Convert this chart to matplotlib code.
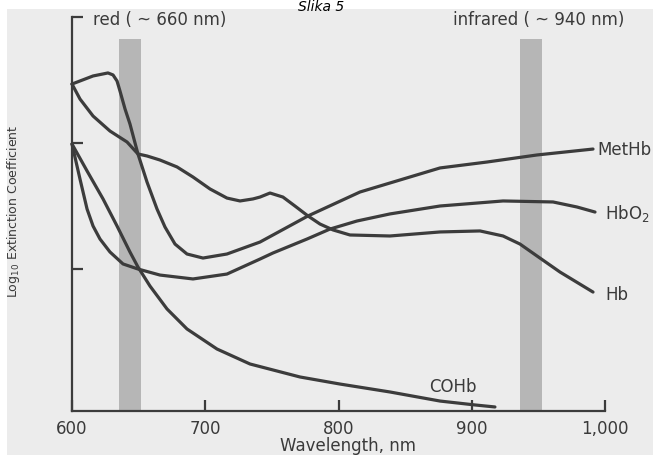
import numpy as np
import matplotlib.pyplot as plt
from matplotlib.patches import Rectangle

plt.rcParams['font.family'] = ['DejaVu Sans']
plt.rcParams['mathtext.default'] = 'regular'

# Krzywe: długość fali [nm] i log10 współczynnika ekstynkcji (jedn. względne)
methb_nm = [600, 615.8, 627.0, 630.8, 633.8, 636.0, 639.8, 643.5, 649.5, 656.3, 663.8, 669.8,
            677.3, 686.3, 698.3, 716.3, 741.1, 777.1, 816.1, 876.2, 911.4, 949.0, 991.0]
methb_val = [1.468, 1.532, 1.556, 1.540, 1.492, 1.413, 1.270, 1.151, 0.913, 0.690, 0.476, 0.333,
             0.198, 0.119, 0.087, 0.119, 0.214, 0.421, 0.611, 0.802, 0.849, 0.905, 0.952]

hb_nm = [600, 606.0, 615.8, 628.5, 641.3, 649.5, 656.3, 666.0, 678.8, 690.8, 703.6, 716.3, 726.1,
         735.8, 741.1, 748.6, 758.3, 767.3, 777.1, 786.1, 795.9, 808.6, 838.6, 876.2, 906.2,
         923.5, 936.2, 949.0, 966.2, 991.0]
hb_val = [1.468, 1.349, 1.214, 1.095, 1.008, 0.913, 0.897, 0.865, 0.810, 0.730, 0.635, 0.563, 0.540,
          0.556, 0.571, 0.603, 0.571, 0.500, 0.421, 0.357, 0.310, 0.270, 0.262, 0.294, 0.302,
          0.262, 0.198, 0.103, -0.024, -0.183]

hbo2_nm = [600, 606.0, 611.3, 615.8, 621.0, 628.5, 638.3, 649.5, 666.0, 690.8, 716.3, 741.1,
           750.8, 776.4, 793.6, 813.9, 838.6, 876.2, 923.5, 961.0, 979.0, 992.5]
hbo2_val = [0.992, 0.714, 0.476, 0.341, 0.238, 0.135, 0.040, 0.0, -0.048, -0.079, -0.040, 0.079,
            0.127, 0.238, 0.317, 0.381, 0.437, 0.500, 0.540, 0.532, 0.492, 0.452]

cohb_nm = [600, 611.3, 623.3, 633.8, 643.5, 649.5, 658.5, 671.3, 686.3, 708.8, 733.6, 771.1,
           801.1, 838.6, 876.2, 902.4, 917.4]
cohb_val = [0.992, 0.778, 0.556, 0.341, 0.135, 0.016, -0.135, -0.317, -0.476, -0.635, -0.754, -0.857,
            -0.913, -0.976, -1.048, -1.079, -1.095]

# Pasma czerwieni i podczerwieni [nm]
bands = [(635, 652), (936, 953)]
xticks = [600, 700, 800, 900, 1000]
xtick_labels = ['600', '700', '800', '900', '1,000']

line_col = '#3c3c3c'
txt_col = '#3a3a3a'

fig = plt.figure(figsize=(6.53, 4.56), dpi=100)
fig.patch.set_facecolor('white')
fig.patches.append(Rectangle((7 / 653, 0), 1, 1 - 10 / 456, transform=fig.transFigure,
                             facecolor='#ececec', edgecolor='none', zorder=-10))

ax = fig.add_axes([72 / 653, 44 / 456, 533 / 653, 394 / 456])
ax.patch.set_alpha(0)
ax.set_xlim(600, 1000)
ax.set_ylim(-1.127, 2.0)

for b0, b1 in bands:
    ax.fill_between([b0, b1], -1.127, 1.825, color='#b6b6b6', lw=0, zorder=1)

for xs, ys in [(methb_nm, methb_val), (hb_nm, hb_val), (hbo2_nm, hbo2_val), (cohb_nm, cohb_val)]:
    ax.plot(xs, ys, color=line_col, lw=2.3, solid_capstyle='round', solid_joinstyle='round',
            zorder=3, clip_on=False)

for s in ['top', 'right']:
    ax.spines[s].set_visible(False)
for s in ['left', 'bottom']:
    ax.spines[s].set_color(line_col)
    ax.spines[s].set_linewidth(1.6)

ax.set_xticks(xticks)
ax.set_xticklabels(xtick_labels)
ax.set_yticks([0, 1, 2])
ax.set_yticklabels([])
ax.tick_params(direction='in', length=8, width=1.6, color=line_col, labelsize=12,
               labelcolor=txt_col, pad=6)

# Etykiety krzywych
ax.text(994.0, 0.952, 'MetHb', fontsize=12, color=txt_col, ha='left', va='center', clip_on=False)
ax.text(1000, 0.452, 'HbO$_2$', fontsize=12, color=txt_col, ha='left', va='center', clip_on=False)
ax.text(1000, -0.198, 'Hb', fontsize=12, color=txt_col, ha='left', va='center', clip_on=False)
ax.text(886, -0.929, 'COHb', fontsize=12, color=txt_col, ha='center', va='center')

ax.text(615.8, 1.984, 'red ( ~ 660 nm)', fontsize=12, color=txt_col, ha='left', va='center',
        clip_on=False)
ax.text(886, 1.984, 'infrared ( ~ 940 nm)', fontsize=12, color=txt_col, ha='left', va='center',
        clip_on=False)

fig.text(14 / 653, 1 - 211 / 456, 'Log$_{10}$ Extinction Coefficient', rotation=90, fontsize=9,
         color=txt_col, ha='center', va='center')
fig.text(348 / 653, 1 - 446 / 456, 'Wavelength, nm', fontsize=12, color=txt_col, ha='center', va='center')
fig.text(321 / 653, 1.0, 'Slika 5', fontsize=10, style='italic', color='black', ha='center', va='top')

fig.savefig('out.png', dpi=100)
